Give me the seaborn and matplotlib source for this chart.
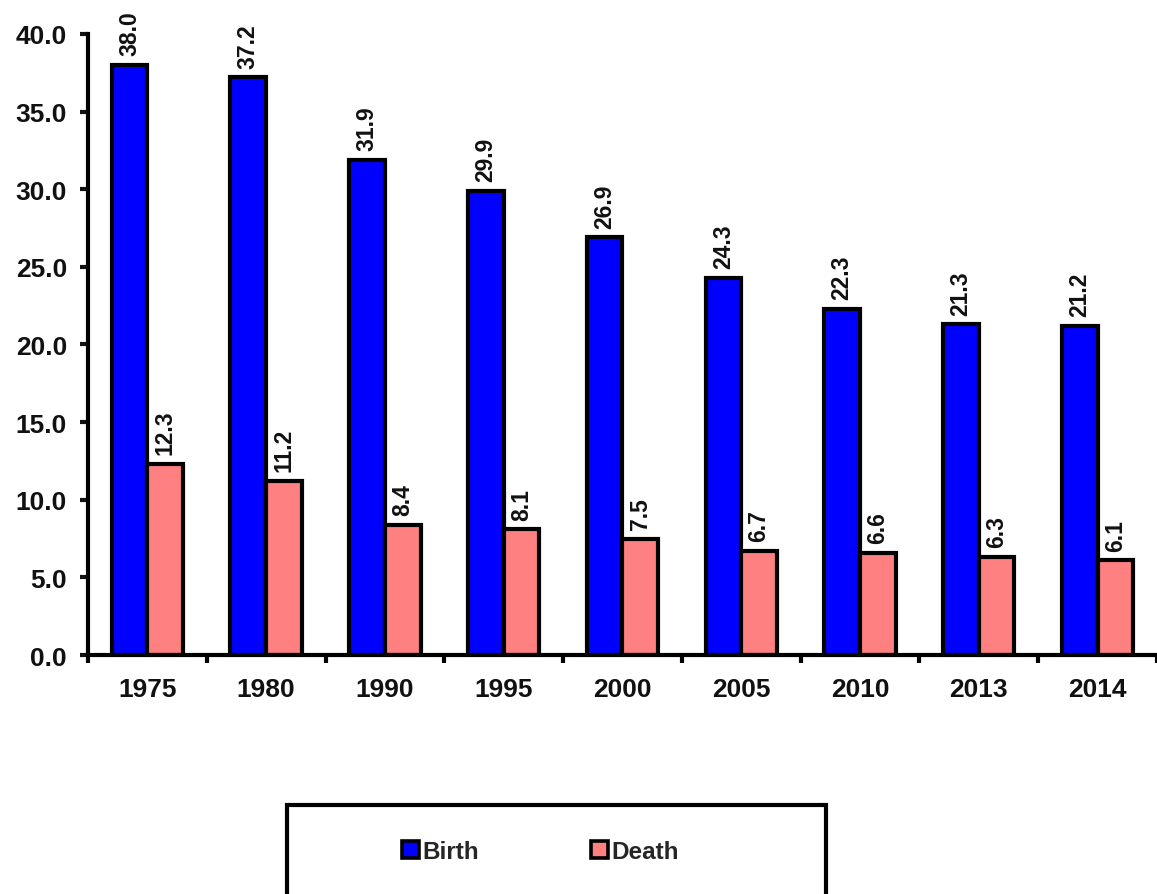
import matplotlib
matplotlib.use("Agg")
import matplotlib.pyplot as plt
from matplotlib.patches import Rectangle
from matplotlib.ticker import FixedLocator, FormatStrFormatter
import pandas as pd
import seaborn as sns

sns.set_theme(style="ticks")
plt.rcParams["font.family"] = ["Liberation Sans", "DejaVu Sans"]
plt.rcParams["font.weight"] = "bold"

# data
years = ["1975", "1980", "1990", "1995", "2000", "2005", "2010", "2013", "2014"]
birth = [38.0, 37.2, 31.9, 29.9, 26.9, 24.3, 22.3, 21.3, 21.2]
death = [12.3, 11.2, 8.4, 8.1, 7.5, 6.7, 6.6, 6.3, 6.1]
series = ["Birth", "Death"]
colors = ["#0000FF", "#FF8080"]

df = pd.DataFrame({
    "year": years * 2,
    "rate": birth + death,
    "kind": ["Birth"] * len(years) + ["Death"] * len(years),
})

fig = plt.figure(figsize=(11.57, 8.95), dpi=100)
ax = fig.add_axes([0.076, 0.267, 0.924, 0.694])

sns.barplot(data=df, x="year", y="rate", hue="kind", hue_order=series,
            palette=colors, saturation=1, width=0.6, edgecolor="black",
            linewidth=3, legend=False, ax=ax)

for cont in ax.containers:
    ax.bar_label(cont, fmt="%.1f", rotation=90, padding=7,
                 fontsize=16.5, fontweight="bold", color="#111111")

ax.set_ylim(0, 40)
ax.set_xlim(-0.5, len(years) - 0.5)
ax.set_yticks(range(0, 41, 5))
ax.yaxis.set_major_formatter(FormatStrFormatter("%.1f"))
ax.set_xlabel("")
ax.set_ylabel("")

# tick marks sit between categories, labels stay centred
ax.xaxis.set_minor_locator(FixedLocator([i - 0.5 for i in range(len(years) + 1)]))
ax.tick_params(axis="x", which="major", length=0, pad=16, labelsize=19, colors="#111111")
ax.tick_params(axis="x", which="minor", length=6, width=3, direction="out", color="black")
ax.tick_params(axis="y", length=6, width=3, direction="out", pad=9,
               labelsize=19, colors="#111111")
for lab in ax.get_xticklabels() + ax.get_yticklabels():
    lab.set_fontweight("bold")

sns.despine(ax=ax)
for side in ["left", "bottom"]:
    ax.spines[side].set_linewidth(3)
    ax.spines[side].set_color("black")

# legend in a boxed frame below the plot
fig.patches.append(Rectangle((0.248, -0.02), 0.466, 0.119, transform=fig.transFigure,
                             fill=False, edgecolor="black", linewidth=3))
handles = [Rectangle((0, 0), 1, 1, facecolor=c, edgecolor="black", linewidth=2.6) for c in colors]
fig.legend(handles, series, loc="center", bbox_to_anchor=(0.467, 0.047), ncol=2,
           frameon=False, handlelength=0.7, handleheight=0.7, handletextpad=0.15,
           columnspacing=4.6, prop={"size": 17.5, "weight": "bold"})

fig.savefig("out.png", dpi=100)
